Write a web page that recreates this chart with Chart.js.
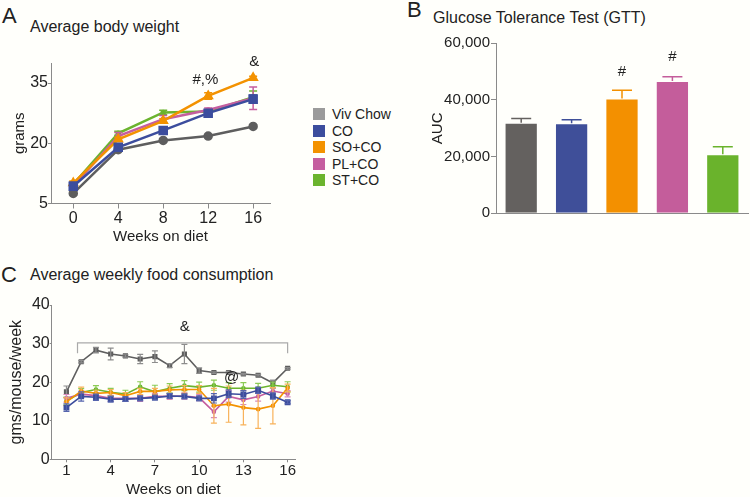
<!DOCTYPE html>
<html>
<head>
<meta charset="utf-8">
<script src="https://cdn.jsdelivr.net/npm/chart.js@4/dist/chart.umd.min.js"></script>
<style>
  body { margin: 0; background: #fffffb; width: 750px; height: 497px; overflow: hidden; position: relative;
         font-family: "Liberation Sans", Arial, sans-serif; color: #222; }
  canvas { position: absolute; }
  .lbl { position: absolute; white-space: nowrap; line-height: 1; }
  .sw { position: absolute; width: 12px; height: 12px; }
</style>
</head>
<body>
<div class="lbl" style="left:2px;top:5px;font-size:22px">A</div>
<div class="lbl" style="left:30px;top:19px;font-size:16px">Average body weight</div>
<div class="lbl" style="left:407px;top:-1px;font-size:22px">B</div>
<div class="lbl" style="left:433px;top:10px;font-size:16px">Glucose Tolerance Test (GTT)</div>
<div class="lbl" style="left:1px;top:264px;font-size:22px">C</div>
<div class="lbl" style="left:30px;top:267px;font-size:16px">Average weekly food consumption</div>
<div id="legend"></div>

<canvas id="chartA" width="290" height="200" style="left:0;top:50px"></canvas>
<canvas id="chartB" width="355" height="230" style="left:395px;top:0"></canvas>
<canvas id="chartC" width="310" height="207" style="left:0;top:290px"></canvas>

<script>
// ---- groups ----
var groups = ['Viv Chow', 'CO', 'SO+CO', 'PL+CO', 'ST+CO']
var lineColors = ['#5e5e5e', '#3c4d9d', '#f39200', '#c55e9f', '#6bb42e']
var legendColors = ['#9b9b9b', '#3c4d9d', '#f39200', '#c55e9f', '#6bb42e']
var barColors = ['#64615f', '#3f4f99', '#f39000', '#c45d9b', '#6ab32c']

// ---- A: average body weight (grams) ----
var weeksA = [0, 4, 8, 12, 16]
var weightViv = [7.5, 18.4, 20.7, 21.8, 24.2]
var weightCO = [9.3, 19.0, 23.2, 27.5, 31.0]
var weightSO = [10.1, 21.0, 25.6, 31.8, 36.3]
var weightPL = [9.3, 21.8, 26.0, 28.3, 31.2]
var weightST = [9.8, 22.5, 27.7, 27.9, 31.5]
var weightErrViv = [0.4, 0.4, 0.4, 0.4, 0.4]
var weightErrCO = [1.0, 0.5, 0.5, 0.5, 1.0]
var weightErrSO = [0.5, 0.5, 0.5, 0.8, 0.4]
var weightErrPL = [1.0, 0.9, 0.9, 0.5, 2.8]
var weightErrST = [0.5, 0.5, 0.5, 0.5, 1.5]

// ---- B: GTT area under curve ----
var gttAUC = [32000, 31800, 40500, 46700, 20800]
var gttErr = [1500, 1200, 2900, 1500, 2700]

// ---- C: weekly food consumption (gms/mouse/week) ----
var weeksC = [1, 2, 3, 4, 5, 6, 7, 8, 9, 10, 11, 12, 13, 14, 15, 16]
var foodViv = [17.5, 25.3, 28.3, 27.3, 26.8, 26.0, 26.6, 24.3, 27.3, 23.0, 22.5, 22.5, 22.1, 21.8, 19.8, 23.6]
var foodCO = [13.4, 16.3, 16.1, 15.6, 15.6, 15.8, 16.0, 16.4, 16.3, 15.8, 15.8, 17.0, 16.8, 17.9, 16.4, 14.8]
var foodSO = [14.9, 17.7, 17.1, 17.3, 16.5, 17.6, 17.6, 18.0, 18.1, 18.1, 13.9, 14.3, 13.4, 13.0, 13.9, 18.5]
var foodPL = [15.8, 16.9, 16.5, 15.8, 15.8, 15.8, 16.3, 16.3, 16.4, 16.0, 12.3, 16.3, 15.4, 16.3, 17.7, 17.0]
var foodST = [15.1, 17.3, 18.1, 17.4, 16.9, 18.8, 17.5, 18.4, 19.1, 18.7, 19.2, 18.4, 18.4, 18.4, 19.2, 18.8]
var foodErrViv = [1.5, 0.3, 0.7, 1.5, 0.3, 1.2, 1.5, 0.5, 2.5, 0.7, 0.2, 0.3, 0.2, 0.2, 0.7, 0.2]
var foodErrCO = [1.0, 1.2, 0.8, 0.8, 0.6, 0.6, 0.6, 0.6, 0.6, 0.6, 1.2, 1.0, 1.0, 0.8, 0.8, 0.4]
var foodErrSO = [1.0, 1.0, 0.8, 0.8, 0.8, 0.8, 0.8, 1.0, 1.0, 1.0, 4.5, 4.7, 4.5, 5.0, 4.7, 1.0]
var foodErrPL = [1.0, 0.8, 0.8, 0.8, 0.8, 0.8, 0.8, 0.8, 0.8, 0.8, 1.5, 1.5, 1.2, 1.2, 0.8, 0.8]
var foodErrST = [1.0, 1.0, 1.0, 1.0, 1.0, 1.3, 1.7, 1.2, 1.3, 1.3, 1.3, 1.5, 1.5, 1.3, 0.8, 1.3]

// ---- tick labels ----
var ticksAx = [0, 4, 8, 12, 16]
var ticksAy = [5, 20, 35]
var ticksB = [0, 20000, 40000, 60000]
var ticksCx = [1, 4, 7, 10, 13, 16]
var ticksCy = [0, 10, 20, 30, 40]

// ---- significance marks ----
var notesA = [{ x: 11.75, y: 35.9, text: '#,%' }, { x: 16.1, y: 40.2, text: '&' }]
var notesB = [{ x: 2, y: 50000, text: '#' }, { x: 3, y: 55100, text: '#' }]
var notesC = [{ x: 9.03, y: 34.4, text: '&' }, { x: 12.2, y: 21.1, text: '@' }]
var bracketC = { from: 1.75, to: 16, y: 30.2, drop: 27.5 }

var FONT = '"Liberation Sans", Arial, sans-serif'
var AXIS = '#8a8a8a'

// legend (html)
var legend = document.getElementById('legend')
groups.map((g, i) => {
    var y = 114 + 16.5 * i
    legend.insertAdjacentHTML('beforeend',
        '<div class="sw" style="left:313px;top:' + (y - 6) + 'px;background:' + legendColors[i] + '"></div>' +
        '<div class="lbl" style="left:332px;top:' + (y - 7) + 'px;font-size:14px">' + g + '</div>')
})

// error bars drawn right after each dataset (upOnly = bar style, cap on top only)
var errorBars = {
    id: 'errorBars',
    afterDatasetDraw(chart, args) {
        var ds = chart.data.datasets[args.index]
        if (!ds.errors) return
        var ctx = chart.ctx
        var ys = chart.scales.y
        ctx.save()
        ctx.lineWidth = ds.errWidth || 1
        args.meta.data.map((el, i) => {
            var raw = ds.data[i]
            var v = typeof raw === 'object' ? raw.y : raw
            var e = ds.errors[i]
            var cap = ds.errCap || 3
            var col = ds.errColor || ds.borderColor
            ctx.strokeStyle = Array.isArray(col) ? col[i] : col
            var top = ys.getPixelForValue(v + e)
            var bot = ds.upOnly ? el.y : ys.getPixelForValue(v - e)
            ctx.beginPath()
            ctx.moveTo(el.x, top); ctx.lineTo(el.x, bot)
            ctx.moveTo(el.x - cap, top); ctx.lineTo(el.x + cap, top)
            if (!ds.upOnly) { ctx.moveTo(el.x - cap, bot); ctx.lineTo(el.x + cap, bot) }
            ctx.stroke()
        })
        ctx.restore()
    }
}

// text marks and brackets
var notes = {
    id: 'notes',
    afterDraw(chart, args, opts) {
        var ctx = chart.ctx
        var xs = chart.scales.x, ys = chart.scales.y
        ctx.save()
        if (opts.bracket) {
            var b = opts.bracket
            ctx.strokeStyle = '#aaaaaa'
            ctx.lineWidth = 1.2
            ctx.beginPath()
            ctx.moveTo(xs.getPixelForValue(b.from), ys.getPixelForValue(b.drop))
            ctx.lineTo(xs.getPixelForValue(b.from), ys.getPixelForValue(b.y))
            ctx.lineTo(xs.getPixelForValue(b.to), ys.getPixelForValue(b.y))
            ctx.lineTo(xs.getPixelForValue(b.to), ys.getPixelForValue(b.drop))
            ctx.stroke()
        }
        ctx.fillStyle = '#222'
        ctx.font = (opts.size || 15) + 'px ' + FONT
        ctx.textAlign = 'center'
        ctx.textBaseline = 'middle'
        ;(opts.items || []).map(n => ctx.fillText(n.text, xs.getPixelForValue(n.x), ys.getPixelForValue(n.y)))
        ctx.restore()
    }
}

function toPoints(xs, ys) {
    return xs.map((x, i) => ({ x: x, y: ys[i] }))
}

function fixTicks(list) {
    return axis => { axis.ticks = list.map(v => ({ value: v })) }
}

function axisStyle(tickLen) {
    return {
        grid: { display: true, drawOnChartArea: false, drawTicks: true, tickLength: tickLen, color: AXIS },
        border: { display: true, color: AXIS, width: 1 }
    }
}

// ---------------- Panel A ----------------
var weightSets = [weightViv, weightCO, weightSO, weightPL, weightST]
var weightErrs = [weightErrViv, weightErrCO, weightErrSO, weightErrPL, weightErrST]
var stylesA = [
    { pointStyle: 'circle', pointRadius: 3.5, order: 4 },
    { pointStyle: 'rect', pointRadius: 5, order: 0 },
    { pointStyle: 'triangle', pointRadius: 4, order: 1 },
    { pointStyle: 'circle', pointRadius: 1.5, order: 2 },
    { pointStyle: 'circle', pointRadius: 1.5, order: 3 }
]

new Chart(document.getElementById('chartA'), {
    type: 'line',
    data: {
        datasets: groups.map((g, i) => Object.assign({
            label: g,
            data: toPoints(weeksA, weightSets[i]),
            errors: weightErrs[i],
            errCap: 4,
            errWidth: 1.5,
            borderColor: lineColors[i],
            backgroundColor: lineColors[i],
            borderWidth: 2.5,
            tension: 0
        }, stylesA[i]))
    },
    options: {
        responsive: false, animation: false, devicePixelRatio: 1,
        layout: { padding: { left: 0, top: 13, right: 20, bottom: 0 } },
        plugins: { legend: { display: false }, tooltip: { enabled: false },
                   notes: { items: notesA, size: 15 } },
        scales: {
            x: Object.assign(axisStyle(5), {
                type: 'linear', min: -1.98, max: 17.5,
                afterBuildTicks: fixTicks(ticksAx),
                afterFit: s => { s.height = 46.5 },
                ticks: { color: '#222', font: { family: FONT, size: 16 }, padding: 0, maxRotation: 0 },
                title: { display: true, text: 'Weeks on diet', color: '#222', font: { family: FONT, size: 15 } }
            }),
            y: Object.assign(axisStyle(3), {
                min: 5, max: 40,
                afterBuildTicks: fixTicks(ticksAy),
                afterFit: s => { s.width = 51 },
                ticks: { color: '#222', font: { family: FONT, size: 16 }, padding: 0 },
                title: { display: true, text: 'grams', color: '#222', font: { family: FONT, size: 15 },
                         padding: { top: 11, bottom: 0 } }
            })
        }
    },
    plugins: [errorBars, notes]
})

// ---------------- Panel B ----------------
new Chart(document.getElementById('chartB'), {
    type: 'bar',
    data: {
        labels: groups,
        datasets: [{
            data: gttAUC,
            errors: gttErr,
            upOnly: true,
            errCap: 10,
            errWidth: 1.5,
            errColor: barColors,
            backgroundColor: barColors,
            borderColor: 'rgba(255,255,255,0.35)',
            borderWidth: 1,
            barPercentage: 0.66,
            categoryPercentage: 1
        }]
    },
    options: {
        responsive: false, animation: false, devicePixelRatio: 1,
        layout: { padding: { left: 30, top: 43.3, right: 2, bottom: 11.7 } },
        plugins: { legend: { display: false }, tooltip: { enabled: false },
                   notes: { items: notesB, size: 15 } },
        scales: {
            x: {
                grid: { display: false },
                border: { display: true, color: AXIS, width: 1 },
                ticks: { display: false },
                afterFit: s => { s.height = 5 }
            },
            y: Object.assign(axisStyle(5), {
                min: 0, max: 60000,
                afterBuildTicks: fixTicks(ticksB),
                afterFit: s => { s.width = 71 },
                ticks: { color: '#222', font: { family: FONT, size: 15 }, padding: 1,
                         callback: v => v.toLocaleString('en-US') },
                title: { display: true, text: 'AUC', color: '#222', font: { family: FONT, size: 15 } }
            })
        }
    },
    plugins: [errorBars, notes]
})

// ---------------- Panel C ----------------
var foodSets = [foodViv, foodCO, foodSO, foodPL, foodST]
var foodErrs = [foodErrViv, foodErrCO, foodErrSO, foodErrPL, foodErrST]
var errColorsC = ['#8d8d8d', '#5564ad', '#f8b25a', '#d78abb', '#8ccb55']
var stylesC = [
    { pointStyle: 'rect', pointRadius: 2.5, order: 4 },
    { pointStyle: 'rect', pointRadius: 3, order: 0 },
    { pointStyle: 'circle', pointRadius: 1.5, order: 1 },
    { pointStyle: 'circle', pointRadius: 1.5, order: 2 },
    { pointStyle: 'circle', pointRadius: 1.5, order: 3 }
]

new Chart(document.getElementById('chartC'), {
    type: 'line',
    data: {
        datasets: groups.map((g, i) => Object.assign({
            label: g,
            data: toPoints(weeksC, foodSets[i]),
            errors: foodErrs[i],
            errColor: errColorsC[i],
            errCap: 3,
            errWidth: 1.2,
            borderColor: lineColors[i],
            backgroundColor: lineColors[i],
            borderWidth: 1.6,
            tension: 0
        }, stylesC[i]))
    },
    options: {
        responsive: false, animation: false, devicePixelRatio: 1,
        layout: { padding: { left: 0, top: 15, right: 15, bottom: 0 } },
        plugins: { legend: { display: false }, tooltip: { enabled: false },
                   notes: { items: notesC, bracket: bracketC, size: 15 } },
        scales: {
            x: Object.assign(axisStyle(3), {
                type: 'linear', min: 0, max: 16.5,
                afterBuildTicks: fixTicks(ticksCx),
                afterFit: s => { s.height = 37.7 },
                ticks: { color: '#222', font: { family: FONT, size: 15 }, padding: 0, maxRotation: 0 },
                title: { display: true, text: 'Weeks on diet', color: '#222',
                         font: { family: FONT, size: 15, lineHeight: 1 }, padding: { top: 0, bottom: 0 } }
            }),
            y: Object.assign(axisStyle(2), {
                min: 0, max: 40,
                afterBuildTicks: fixTicks(ticksCy),
                afterFit: s => { s.width = 51.7 },
                ticks: { color: '#222', font: { family: FONT, size: 16 }, padding: 0 },
                title: { display: true, text: 'gms/mouse/week', color: '#222', font: { family: FONT, size: 16 },
                         padding: { top: 7, bottom: 0 } }
            })
        }
    },
    plugins: [errorBars, notes]
})
</script>
</body>
</html>
